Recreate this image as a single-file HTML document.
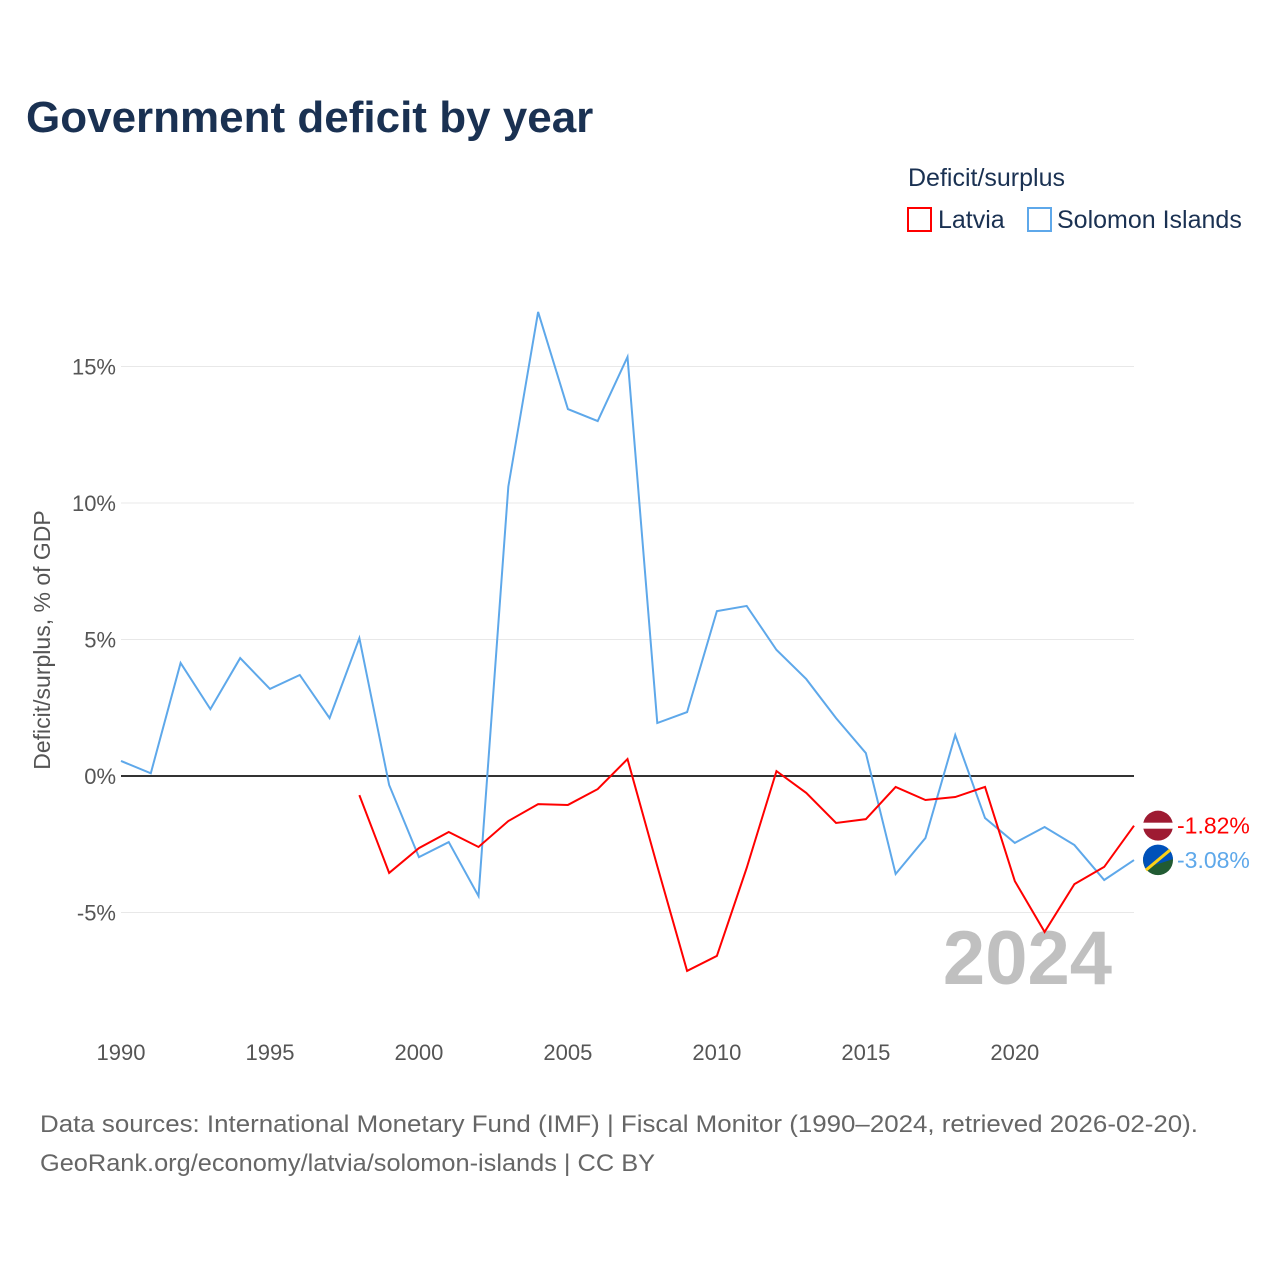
<!DOCTYPE html>
<html><head><meta charset="utf-8"><style>
body{margin:0;background:#fff;font-family:"Liberation Sans",sans-serif}
#wrap{position:relative;width:1280px;height:1280px;overflow:hidden}
</style></head><body>
<div id="wrap">
<svg id="chart" width="1280" height="1280"></svg>
</div>
<script>
const years=[];for(let y=1990;y<=2024;y++)years.push(y);
const solomon=[0.55,0.1,4.14,2.45,4.32,3.19,3.7,2.12,5.05,-0.33,-2.97,-2.42,-4.4,10.6,17.0,13.44,13.0,15.35,1.94,2.34,6.04,6.23,4.62,3.55,2.12,0.84,-3.59,-2.27,1.5,-1.54,-2.45,-1.87,-2.53,-3.81,-3.08];
const latviaYears=[1998,1999,2000,2001,2002,2003,2004,2005,2006,2007,2008,2009,2010,2011,2012,2013,2014,2015,2016,2017,2018,2019,2020,2021,2022,2023,2024];
const latvia=[-0.7,-3.55,-2.64,-2.05,-2.6,-1.65,-1.03,-1.06,-0.48,0.62,-3.3,-7.14,-6.59,-3.37,0.18,-0.62,-1.72,-1.58,-0.4,-0.88,-0.77,-0.4,-3.85,-5.71,-3.96,-3.33,-1.82];
const yTicks=[-5,0,5,10,15];
const xTicks=[1990,1995,2000,2005,2010,2015,2020];
const ns="http://www.w3.org/2000/svg";
const svg=document.getElementById('chart');
const X=y=>121+(y-1990)*(1134-121)/34;
const Y=v=>776-v*27.3;
function mk(t,a,p){const e=document.createElementNS(ns,t);for(const k in a)e.setAttribute(k,a[k]);(p||svg).appendChild(e);return e;}
function txt(s,a){const e=mk('text',a);e.textContent=s;return e;}
let e;
e=txt('Government deficit by year',{x:26,y:132,'font-size':44,'font-weight':'bold',fill:'#1a3152'});

e=txt('Deficit/surplus',{x:908,y:186,'font-size':25,fill:'#1a3152'});

const lg=[[908,'Latvia','#ff0000',938],[1028,'Solomon Islands','#5ea8ea',1057]];
lg.forEach(l=>{const g=mk('g',{});
mk('rect',{x:l[0],y:208,width:23,height:23,fill:'none',stroke:l[2],'stroke-width':2},g);
const t=mk('text',{x:l[3],y:228,'font-size':25,fill:'#1a3152'},g);t.textContent=l[1];});
yTicks.forEach(v=>{e=mk('line',{x1:121,x2:1134,y1:Y(v),y2:Y(v),stroke:v==0?'#333':'#e8e8e8','stroke-width':v==0?2:1});

e=txt(v+'%',{x:116,y:Y(v)+8,'font-size':22,fill:'#555','text-anchor':'end'});
});
xTicks.forEach(v=>{e=txt(String(v),{x:X(v),y:1060,'font-size':22,fill:'#555','text-anchor':'middle'});
});
e=txt('Deficit/surplus, % of GDP',{x:0,y:0,'font-size':23,fill:'#555','text-anchor':'middle',transform:'translate(50,640) rotate(-90)'});

e=txt('2024',{x:1112,y:984,'font-size':76,'font-weight':'bold',fill:'#c0c0c0','text-anchor':'end'});

e=mk('path',{d:solomon.map((v,i)=>(i?'L':'M')+X(years[i])+','+Y(v)).join(''),fill:'none',stroke:'#5ea8ea','stroke-width':2});

e=mk('path',{d:latvia.map((v,i)=>(i?'L':'M')+X(latviaYears[i])+','+Y(v)).join(''),fill:'none',stroke:'#ff0000','stroke-width':2});

const lv=latvia[latvia.length-1],sv=solomon[solomon.length-1];
let g=mk('g',{});
mk('circle',{cx:1158,cy:Y(lv),r:15,fill:'#9e1b32'},g);
mk('rect',{x:1143,y:Y(lv)-3,width:30,height:6,fill:'#fff'},g);
e=txt(lv.toFixed(2)+'%',{x:1177,y:Y(lv)+8,'font-size':23,fill:'#ff0000'});

g=mk('g',{});
mk('circle',{cx:1158,cy:Y(sv),r:15,fill:'#215b33'},g);
mk('path',{d:`M1143,${Y(sv)} A15,15 0 0 1 1173,${Y(sv)-1} L1145,${Y(sv)+8}Z`,fill:'#0051ba'},g);
mk('line',{x1:1146,y1:Y(sv)+10,x2:1170,y2:Y(sv)-10,stroke:'#fcd116','stroke-width':3},g);
e=txt(sv.toFixed(2)+'%',{x:1177,y:Y(sv)+8,'font-size':23,fill:'#5ea8ea'});

e=txt('Data sources: International Monetary Fund (IMF) | Fiscal Monitor (1990–2024, retrieved 2026-02-20).',{x:40,y:1132,'font-size':24,fill:'#666',textLength:1158,lengthAdjust:'spacingAndGlyphs'});

e=txt('GeoRank.org/economy/latvia/solomon-islands | CC BY',{x:40,y:1171,'font-size':24,fill:'#666',textLength:615,lengthAdjust:'spacingAndGlyphs'});

</script>
</body></html>
